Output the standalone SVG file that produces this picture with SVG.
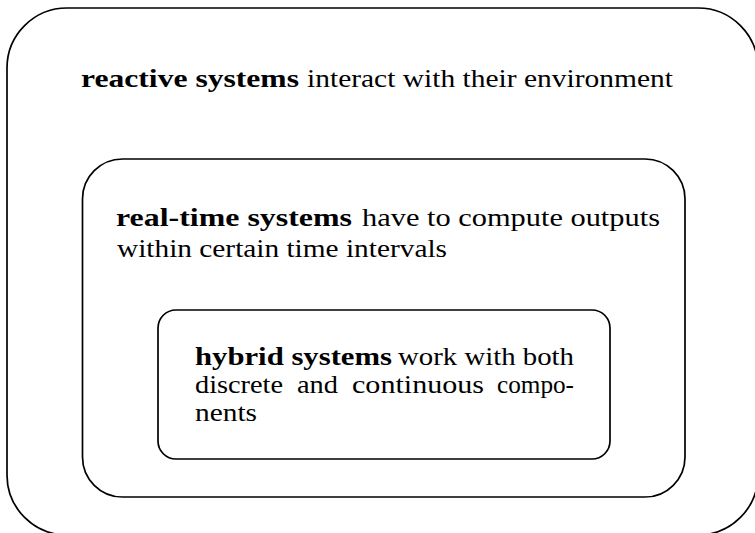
<svg xmlns="http://www.w3.org/2000/svg" width="755" height="533" viewBox="0 0 755 533">
<style>
.box{fill:none;stroke:#000;stroke-width:1.7}
text{font-family:"Liberation Serif","Times New Roman",serif;font-size:26px;fill:#000}
.b{font-weight:bold}
</style>
<rect width="755" height="533" fill="#fff"/>
<g id="reactive">
<rect class="box" x="7" y="8" width="751" height="527" rx="60" ry="60"/>
<text class="b" x="81" y="87" textLength="218" lengthAdjust="spacingAndGlyphs">reactive systems</text>
<text x="307" y="87" textLength="366" lengthAdjust="spacingAndGlyphs">interact with their environment</text>
</g>
<g id="realtime">
<rect class="box" x="82.5" y="159" width="602.5" height="338" rx="40" ry="40"/>
<text class="b" x="116" y="226" textLength="236" lengthAdjust="spacingAndGlyphs">real-time systems</text>
<text x="362" y="226" textLength="298" lengthAdjust="spacingAndGlyphs">have to compute outputs</text>
<text x="117" y="257" textLength="330" lengthAdjust="spacingAndGlyphs">within certain time intervals</text>
</g>
<g id="hybrid">
<rect class="box" x="158" y="310" width="452" height="149" rx="18" ry="18"/>
<text class="b" x="195" y="365" textLength="197" lengthAdjust="spacingAndGlyphs">hybrid systems</text>
<text x="398" y="365" textLength="176" lengthAdjust="spacingAndGlyphs">work with both</text>
<text x="195" y="393" textLength="88" lengthAdjust="spacingAndGlyphs">discrete</text>
<text x="297" y="393" textLength="41" lengthAdjust="spacingAndGlyphs">and</text>
<text x="352" y="393" textLength="132" lengthAdjust="spacingAndGlyphs">continuous</text>
<text x="497" y="393" textLength="77" lengthAdjust="spacingAndGlyphs">compo-</text>
<text x="195" y="421" textLength="62" lengthAdjust="spacingAndGlyphs">nents</text>
</g>
</svg>
